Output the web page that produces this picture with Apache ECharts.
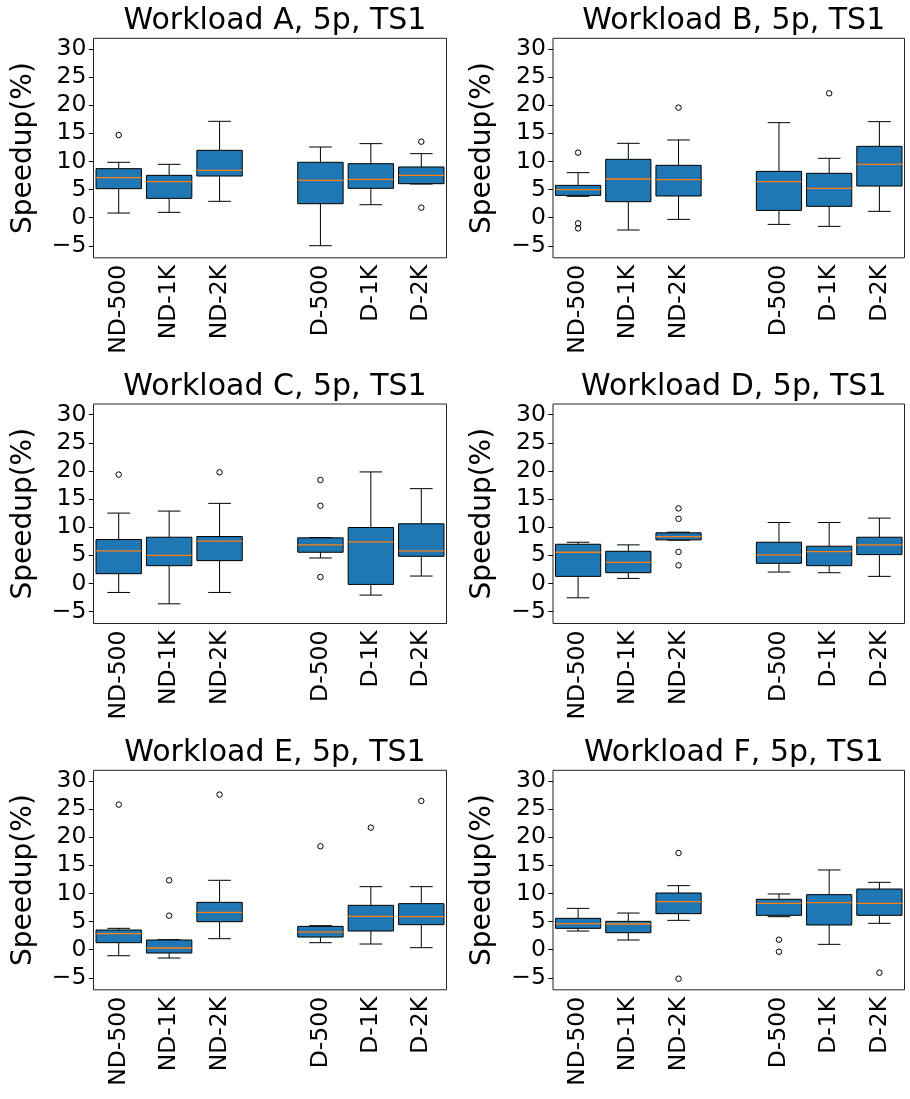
<!DOCTYPE html>
<html>
<head>
<meta charset="utf-8">
<script src="https://cdn.jsdelivr.net/npm/echarts@6/dist/echarts.min.js"></script>
<style>
html,body{margin:0;padding:0;background:#fff;}
#chart{width:910px;height:1099px;}
</style>
</head>
<body>
<div id="chart"></div>
<script>
// Categories (an empty slot separates the ND and D groups)
const categories = ['ND-500', 'ND-1K', 'ND-2K', '', 'D-500', 'D-1K', 'D-2K'];
const boxCategories = ['ND-500', 'ND-1K', 'ND-2K', 'D-500', 'D-1K', 'D-2K'];
const titles = ['Workload A, 5p, TS1', 'Workload B, 5p, TS1', 'Workload C, 5p, TS1',
                'Workload D, 5p, TS1', 'Workload E, 5p, TS1', 'Workload F, 5p, TS1'];
const yTicks = [-5, 0, 5, 10, 15, 20, 25, 30];

// Box stats per category: [lowerWhisker, Q1, median, Q3, upperWhisker]
const boxA = [[0.83, 5.16, 7.12, 8.72, 9.85], [0.95, 3.44, 6.41, 7.53, 9.49], [2.91, 7.41, 8.42, 11.98, 17.14],
              [-4.98, 2.49, 6.64, 9.85, 12.57], [2.31, 5.22, 6.82, 9.61, 13.17], [5.99, 6.05, 7.53, 9.02, 11.39]];
const boxB = [[3.80, 3.97, 4.98, 5.75, 8.01], [-2.19, 2.85, 6.88, 10.38, 13.23], [-0.30, 3.86, 6.76, 9.31, 13.82],
              [-1.19, 1.30, 6.41, 8.24, 16.90], [-1.54, 2.02, 5.22, 7.89, 10.56], [1.13, 5.63, 9.49, 12.69, 17.08]];
const boxC = [[-1.61, 1.73, 5.77, 7.80, 12.50], [-3.63, 3.15, 5.00, 8.21, 12.86], [-1.61, 4.05, 7.50, 8.33, 14.23],
              [4.52, 5.54, 6.85, 8.10, 8.15], [-2.08, -0.18, 7.38, 9.94, 19.82], [1.31, 4.82, 5.77, 10.60, 16.85]];
const boxD = [[-2.56, 1.25, 5.54, 6.96, 7.32], [0.89, 1.90, 3.75, 5.71, 6.85], [7.68, 7.74, 8.33, 8.99, 9.11],
              [2.02, 3.57, 5.06, 7.32, 10.83], [1.90, 3.15, 5.65, 6.61, 10.83], [1.25, 5.12, 6.85, 8.21, 11.61]];
const boxE = [[-1.07, 1.25, 2.85, 3.50, 3.80], [-1.48, -0.59, 0.30, 1.72, 1.78], [1.96, 4.98, 6.64, 8.42, 12.34],
              [1.25, 2.25, 3.14, 4.15, 4.27], [1.01, 3.32, 5.93, 7.89, 11.21], [0.36, 4.45, 5.87, 8.19, 11.21]];
const boxF = [[3.32, 3.80, 4.63, 5.58, 7.35], [1.72, 3.02, 4.57, 5.04, 6.52], [5.22, 6.41, 8.54, 10.08, 11.39],
              [5.87, 6.11, 8.24, 8.96, 9.91], [0.95, 4.39, 8.36, 9.79, 14.18], [4.69, 6.11, 8.24, 10.79, 11.98]];

// Outliers: [category label, value]
const outA = [['ND-500', 14.7], ['D-2K', 13.52], ['D-2K', 1.78]];
const outB = [['ND-500', 11.57], ['ND-500', -1.0], ['ND-500', -1.9], ['ND-2K', 19.57], ['D-1K', 22.12]];
const outC = [['ND-500', 19.35], ['ND-2K', 19.76], ['D-500', 18.39], ['D-500', 13.81], ['D-500', 1.13]];
const outD = [['ND-2K', 13.33], ['ND-2K', 11.49], ['ND-2K', 5.60], ['ND-2K', 3.21]];
const outE = [['ND-500', 25.8], ['ND-1K', 12.34], ['ND-1K', 6.05], ['ND-2K', 27.58], ['D-500', 18.39], ['D-1K', 21.71], ['D-2K', 26.45]];
const outF = [['ND-2K', 17.2], ['ND-2K', -5.16], ['D-500', 1.78], ['D-500', -0.36], ['D-2K', -4.09]];

const allBoxes = [boxA, boxB, boxC, boxD, boxE, boxF];
const allOutliers = [outA, outB, outC, outD, outE, outF];

const chart = echarts.init(document.getElementById('chart'), null, {renderer: 'canvas'});
const FONT = 'DejaVu Sans';
const colLeft = [93.5, 553];
const colWidth = [353, 351.5];
const rowTop = [38.3, 404, 770.3];
const plotH = 219.5;

const grids = [], xAxes = [], yAxes = [], series = [], titleComps = [];
for (let p = 0; p < 6; p++) {
  const c = p % 2, r = Math.floor(p / 2);
  grids.push({left: colLeft[c], top: rowTop[r], width: colWidth[c], height: plotH, show: true,
              borderColor: '#222', borderWidth: 1, backgroundColor: 'transparent', containLabel: false});
  titleComps.push({text: titles[p], left: colLeft[c] + colWidth[c] / 2, top: rowTop[r] - 37, textAlign: 'center',
                   textStyle: {fontFamily: FONT, fontSize: 30, fontWeight: 'normal', color: '#000'}});
  xAxes.push({type: 'category', gridIndex: p, data: categories, boundaryGap: true,
              axisLine: {show: false}, axisTick: {show: false}, splitLine: {show: false},
              axisLabel: {rotate: 90, interval: 0, margin: 7, fontFamily: FONT, fontSize: 23.5, color: '#000'}});
  yAxes.push({type: 'value', gridIndex: p, min: -7.13, max: 31.9,
              name: 'Speedup(%)', nameLocation: 'middle', nameRotate: 90, nameGap: 56,
              nameTextStyle: {fontFamily: FONT, fontSize: 28, color: '#000'},
              axisLine: {show: false}, splitLine: {show: false},
              axisTick: {show: true, length: 4.7, customValues: yTicks, lineStyle: {color: '#000', width: 1}},
              axisLabel: {customValues: yTicks, margin: 7, fontFamily: FONT, fontSize: 23.5, color: '#000',
                          formatter: v => String(v).replace('-', '\u2212')}});
  const boxData = allBoxes[p].map((b, i) => [categories.indexOf(boxCategories[i])].concat(b));
  series.push({
    type: 'custom', xAxisIndex: p, yAxisIndex: p, data: boxData,
    encode: {x: 0, y: [1, 2, 3, 4, 5]},
    renderItem: function (params, api) {
      const idx = api.value(0);
      const lo = api.coord([idx, api.value(1)]);
      const q1 = api.coord([idx, api.value(2)]);
      const md = api.coord([idx, api.value(3)]);
      const q3 = api.coord([idx, api.value(4)]);
      const hi = api.coord([idx, api.value(5)]);
      const band = api.size([1, 0])[0];
      const w = band * 0.9, cw = w / 4;
      const x = lo[0];
      const ls = {stroke: '#000', lineWidth: 1};
      return {type: 'group', children: [
        {type: 'line', shape: {x1: x, y1: q1[1], x2: x, y2: lo[1]}, style: ls},
        {type: 'line', shape: {x1: x, y1: q3[1], x2: x, y2: hi[1]}, style: ls},
        {type: 'line', shape: {x1: x - cw, y1: lo[1], x2: x + cw, y2: lo[1]}, style: ls},
        {type: 'line', shape: {x1: x - cw, y1: hi[1], x2: x + cw, y2: hi[1]}, style: ls},
        {type: 'rect', shape: {x: x - w / 2, y: q3[1], width: w, height: q1[1] - q3[1]},
         style: {fill: '#1f77b4', stroke: '#000', lineWidth: 1}},
        {type: 'line', shape: {x1: x - w / 2, y1: md[1], x2: x + w / 2, y2: md[1]},
         style: {stroke: '#ff7f0e', lineWidth: 1.3}}
      ]};
    },
    silent: true, animation: false
  });
  series.push({
    type: 'scatter', xAxisIndex: p, yAxisIndex: p,
    data: allOutliers[p].map(o => [categories.indexOf(o[0]), o[1]]),
    symbol: 'circle', symbolSize: 5.5,
    itemStyle: {color: 'rgba(0,0,0,0)', borderColor: '#000', borderWidth: 1, opacity: 1},
    silent: true, animation: false
  });
}

chart.setOption({
  animation: false,
  backgroundColor: '#fff',
  title: titleComps,
  grid: grids,
  xAxis: xAxes,
  yAxis: yAxes,
  series: series
});
</script>
</body>
</html>
